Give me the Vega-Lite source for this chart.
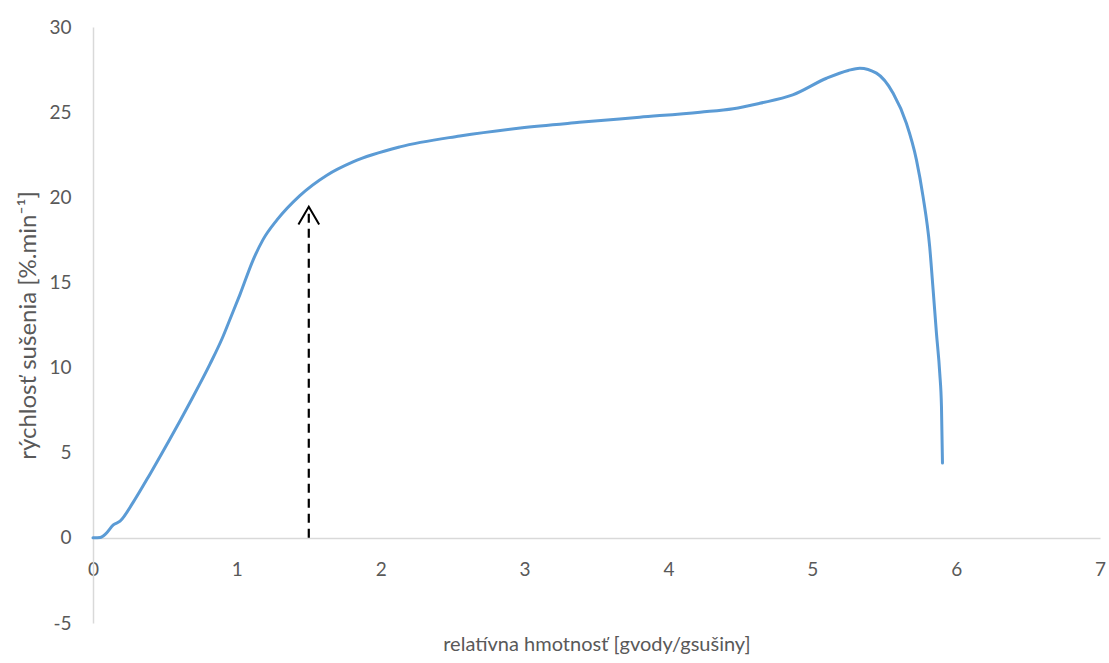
{
  "$schema": "https://vega.github.io/schema/vega-lite/v6.json",
  "width": 1007,
  "height": 596,
  "autosize": {"type": "none"},
  "padding": {"left": 93, "top": 27, "right": 9, "bottom": 40},
  "background": "white",
  "config": {
    "view": {"stroke": null},
    "font": "Lato",
    "axis": {
      "grid": false,
      "ticks": false,
      "domainColor": "#D9D9D9",
      "domainWidth": 1.5,
      "labelColor": "#595959",
      "labelFont": "Lato",
      "labelFontSize": 19,
      "titleColor": "#595959",
      "titleFont": "Lato",
      "titleFontWeight": "normal"
    }
  },
  "datasets": {
    "curve": [
      {"i": 0, "x": 0.0, "y": 0.0},
      {"i": 1, "x": 0.05, "y": 0.02},
      {"i": 2, "x": 0.09, "y": 0.25},
      {"i": 3, "x": 0.141, "y": 0.76},
      {"i": 4, "x": 0.188, "y": 0.98},
      {"i": 5, "x": 0.28, "y": 2.1},
      {"i": 6, "x": 0.4, "y": 3.8},
      {"i": 7, "x": 0.535, "y": 5.8},
      {"i": 8, "x": 0.674, "y": 7.95},
      {"i": 9, "x": 0.813, "y": 10.2},
      {"i": 10, "x": 0.9, "y": 11.75},
      {"i": 11, "x": 0.96, "y": 13.0},
      {"i": 12, "x": 1.022, "y": 14.3},
      {"i": 13, "x": 1.112, "y": 16.3},
      {"i": 14, "x": 1.181, "y": 17.5},
      {"i": 15, "x": 1.279, "y": 18.67},
      {"i": 16, "x": 1.438, "y": 20.1},
      {"i": 17, "x": 1.626, "y": 21.3},
      {"i": 18, "x": 1.807, "y": 22.08},
      {"i": 19, "x": 2.133, "y": 22.96},
      {"i": 20, "x": 2.55, "y": 23.6},
      {"i": 21, "x": 2.97, "y": 24.07},
      {"i": 22, "x": 3.38, "y": 24.4},
      {"i": 23, "x": 3.8, "y": 24.7},
      {"i": 24, "x": 4.22, "y": 25.0},
      {"i": 25, "x": 4.45, "y": 25.2},
      {"i": 26, "x": 4.635, "y": 25.52},
      {"i": 27, "x": 4.864, "y": 26.01},
      {"i": 28, "x": 5.099, "y": 26.99},
      {"i": 29, "x": 5.25, "y": 27.45},
      {"i": 30, "x": 5.33, "y": 27.58},
      {"i": 31, "x": 5.446, "y": 27.29},
      {"i": 32, "x": 5.562, "y": 26.11},
      {"i": 33, "x": 5.654, "y": 24.35},
      {"i": 34, "x": 5.724, "y": 22.2},
      {"i": 35, "x": 5.77, "y": 20.04},
      {"i": 36, "x": 5.816, "y": 17.1},
      {"i": 37, "x": 5.84, "y": 14.56},
      {"i": 38, "x": 5.863, "y": 12.02},
      {"i": 39, "x": 5.886, "y": 9.67},
      {"i": 40, "x": 5.898, "y": 7.71},
      {"i": 41, "x": 5.905, "y": 4.39}
    ],
    "shaft": [
      {"x": 1.5, "y": 0},
      {"x": 1.5, "y": 19.4}
    ],
    "head": [
      {"i": 0, "x": 1.428, "y": 18.4},
      {"i": 1, "x": 1.5, "y": 19.45},
      {"i": 2, "x": 1.572, "y": 18.4}
    ]
  },
  "layer": [
    {
      "data": {"name": "curve"},
      "mark": {"type": "line", "color": "#5B9BD5", "strokeWidth": 3, "interpolate": "monotone", "strokeCap": "round"},
      "encoding": {
        "x": {
          "field": "x", "type": "quantitative",
          "scale": {"domain": [0, 7], "nice": false, "zero": false},
          "axis": {
            "values": [0, 1, 2, 3, 4, 5, 6, 7],
            "labelExpr": "'' + datum.value",
            "labelFlush": false,
            "offset": -85,
            "labelPadding": 22,
            "title": "relatívna hmotnosť [gvody/gsušiny]",
            "titleFontSize": 20,
            "titlePadding": 55
          }
        },
        "y": {
          "field": "y", "type": "quantitative",
          "scale": {"domain": [-5, 30], "nice": false, "zero": false},
          "axis": {
            "values": [-5, 0, 5, 10, 15, 20, 25, 30],
            "labelExpr": "'' + datum.value",
            "labelPadding": 22,
            "title": "rýchlosť sušenia [%.min⁻¹]",
            "titleFontSize": 24,
            "titlePadding": 8
          }
        },
        "order": {"field": "i", "type": "quantitative"}
      }
    },
    {
      "data": {"name": "shaft"},
      "mark": {"type": "line", "color": "black", "strokeWidth": 2.2, "strokeDash": [9, 6]},
      "encoding": {
        "x": {"field": "x", "type": "quantitative"},
        "y": {"field": "y", "type": "quantitative"}
      }
    },
    {
      "data": {"name": "head"},
      "mark": {"type": "line", "color": "black", "strokeWidth": 2},
      "encoding": {
        "x": {"field": "x", "type": "quantitative"},
        "y": {"field": "y", "type": "quantitative"},
        "order": {"field": "i", "type": "quantitative"}
      }
    }
  ]
}
